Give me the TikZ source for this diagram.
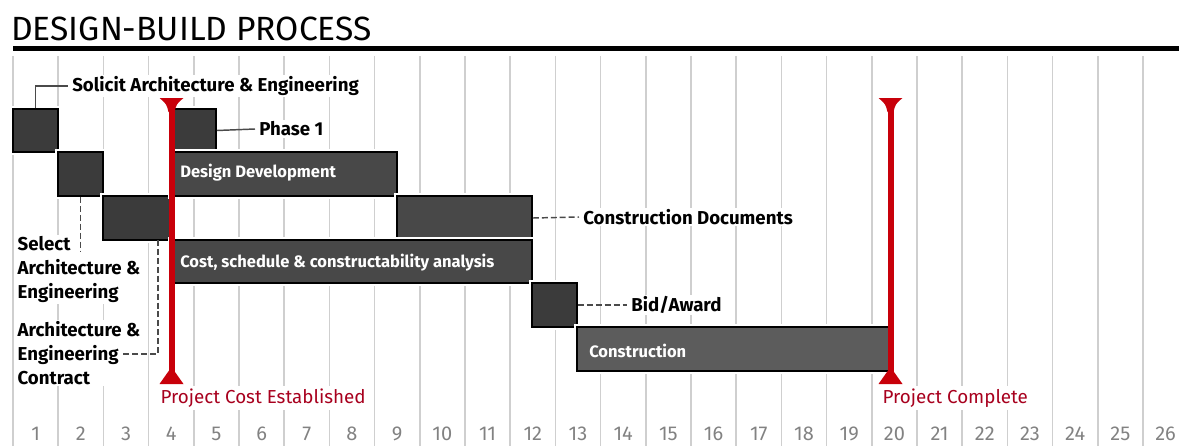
\documentclass[tikz,border=0pt]{standalone}
\usepackage{fontspec}
\setmainfont{Fira Sans}
\usetikzlibrary{fit,calc}
\definecolor{gridgray}{HTML}{CFCFCF}
\definecolor{bardark}{HTML}{3B3B3B}
\definecolor{barmid}{HTML}{484848}
\definecolor{barlight}{HTML}{5C5C5C}
\definecolor{leadgray}{HTML}{4A4A4A}
\definecolor{numgray}{HTML}{828282}
\definecolor{mark}{HTML}{C8000A}
\definecolor{marktext}{HTML}{A8001E}
\tikzset{
  gridline/.style={draw=gridgray, line width=1.2pt},
  bar/.style={draw=black, line width=1.4pt, fill=#1, inner sep=0pt,
    preaction={draw=white, line width=4pt}},
  bar/.default=bardark,
  bartext/.style={anchor=west, text=white, font=\bfseries\fontsize{12.4}{14}\selectfont, inner sep=0pt},
  lbl/.style={anchor=west, font=\bfseries\fontsize{14}{18}\selectfont, fill=white, inner xsep=3pt, inner ysep=1pt},
  lblblock/.style={anchor=north west, align=left, font=\bfseries\fontsize{14}{18}\selectfont, fill=white, inner sep=1pt},
  lead/.style={draw=leadgray, line width=1.1pt},
  leaddash/.style={lead, dash pattern=on 4.5pt off 2.2pt},
  redline/.style={draw=mark, line width=4.5pt},
  redhead/.style={fill=mark, draw=none},
  redlbl/.style={anchor=west, text=marktext, font=\fontsize{14.1}{16}\selectfont, fill=white, inner xsep=1pt, inner ysep=2pt},
  num/.style={text=numgray, font=\fontsize{15}{16}\selectfont, inner sep=1pt},
}
\begin{document}
\begin{tikzpicture}[x=0.75pt, y=-0.75pt]
\useasboundingbox (0,0) rectangle (1179,446);

% title and rule
\node[anchor=west, inner sep=0pt, font=\fontsize{25.2}{28}\selectfont] (title) at (11,29) {DESIGN-BUILD PROCESS};
\draw[line width=3.6pt] (13,48.5) -- (1179,48.5);

% week grid
\foreach \i in {0,...,25} {
  \draw[gridline] (13+45.2*\i,56) -- (13+45.2*\i,446);
}
\foreach \i in {1,...,26} {
  \node[num] (n\i) at (35.6+45.2*\i-45.2,434) {\i};
}

% labels outside the bars (white backing hides the grid)
\node[lbl] (solicitLbl) at (68,86) {Solicit Architecture \& Engineering};
\node[lbl] (phase1Lbl) at (255,129) {Phase 1};
\node[lbl] (cdocsLbl) at (579,217) {Construction Documents};
\node[lbl] (bidLbl) at (627,305) {Bid/Award};
\node[lblblock] (selectLbl) at (16,235) {Select\\Architecture \&\\Engineering};
\node[lblblock] (contractLbl) at (16,320) {Architecture \&\\Engineering\\Contract};

% schedule bars
\node[bar, fit={(13,109)(58,152)}] (solicit) {};
\node[bar, fit={(58,152)(103,196)}] (select) {};
\node[bar, fit={(103,196)(171,240)}] (contract) {};
\node[bar, fit={(171,109)(216,152)}] (phase1) {};
\node[bar=barmid, fit={(171,152)(397,196)}] (design) {};
\node[bar=barmid, fit={(397,196)(532,240)}] (cdocs) {};
\node[bar=barmid, fit={(171,240)(532,283)}] (cost) {};
\node[bar, fit={(532,283)(577,327)}] (bid) {};
\node[bar=barlight, fit={(577,327)(890,371)}] (build) {};

% labels inside bars
\node[bartext] (designTxt) at (180,173) {Design Development};
\node[bartext] (costTxt) at (180,263) {Cost, schedule \& constructability analysis};
\node[bartext] (buildTxt) at (589,351) {Construction};

% leaders
\coordinate (selectEnd) at (80.5,252);
\coordinate (contractTop) at (158,240);
\coordinate (contractEnd) at (122,354);
\draw[lead] (solicit.north) |- (solicitLbl.west);
\draw[lead] (phase1.east) -- (phase1Lbl.west);
\draw[leaddash] (cdocs.east) -- (cdocsLbl.west);
\draw[leaddash] (bid.east) -- (bidLbl.west);
\draw[leaddash] (select.south) -- (selectEnd);
\draw[leaddash] (contractTop) |- (contractEnd);

% milestones
\coordinate (costTop) at (171.5,98);
\coordinate (costBot) at (171.5,384);
\coordinate (doneTop) at (890.5,98);
\coordinate (doneBot) at (890.5,384);
\draw[redline] (costTop) -- (costBot);
\draw[redline] (doneTop) -- (doneBot);
\foreach \p in {costTop,doneTop} {
  \fill[redhead] ($(\p)+(-12,0)$) -- ($(\p)+(12,0)$) .. controls ($(\p)+(5,6)$) .. ($(\p)+(3,14)$)
    -- ($(\p)+(-3,14)$) .. controls ($(\p)+(-5,6)$) .. cycle;
}
\foreach \p in {costBot,doneBot} {
  \fill[redhead] ($(\p)+(-12,0)$) -- ($(\p)+(12,0)$) -- ($(\p)+(0,-17)$) -- cycle;
}
\node[redlbl] (costLbl) at (159,398) {Project Cost Established};
\node[redlbl] (doneLbl) at (881,398) {Project Complete};
\end{tikzpicture}
\end{document}
